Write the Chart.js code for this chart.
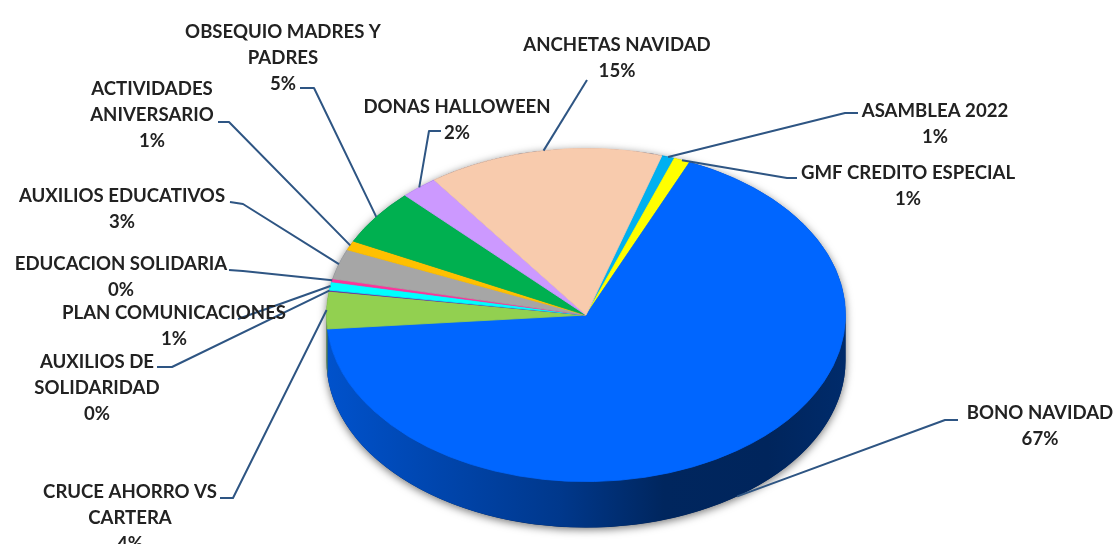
<!DOCTYPE html>
<html>
<head>
<meta charset="utf-8">
<script src="https://cdn.jsdelivr.net/npm/chart.js@4.4.1/dist/chart.umd.min.js"></script>
<style>
  html, body { margin: 0; padding: 0; background: #fff; }
  #wrap { width: 1118px; height: 544px; position: relative; }
</style>
</head>
<body>
<div id="wrap"><canvas id="chart"></canvas></div>
<script>
// slices in clockwise order, starting at the top right
const categories = [
    "ASAMBLEA 2022",
    "GMF CREDITO ESPECIAL",
    "BONO NAVIDAD",
    ["CRUCE AHORRO VS", "CARTERA"],
    ["AUXILIOS DE", "SOLIDARIDAD"],
    "PLAN COMUNICACIONES",
    "EDUCACION SOLIDARIA",
    "AUXILIOS EDUCATIVOS",
    ["ACTIVIDADES", "ANIVERSARIO"],
    ["OBSEQUIO MADRES Y", "PADRES"],
    "DONAS HALLOWEEN",
    "ANCHETAS NAVIDAD"
]
const values = [0.8, 1.0, 66.8, 3.6, 0.1, 0.8, 0.3, 2.9, 0.9, 5.4, 2.3, 14.6]
const colors = ["#00b0f0", "#ffff00", "#0066ff", "#92d050", "#7030a0", "#00ffff",
                "#ff3399", "#a6a6a6", "#ffc000", "#00b050", "#cc99ff", "#f8cbad"]

// where each label sits, and the bent part of its leader line
const labelLayout = [
    { x: 935, y: 111, lead: [[858, 113], [845, 113]] },
    { x: 908, y: 173, lead: [[797, 178], [787, 178]] },
    { x: 1040, y: 413, lead: [[958, 420], [945, 420]], side: true },
    { x: 130, y: 492, lead: [[220, 498], [233, 498]] },
    { x: 97, y: 362, lead: [[157, 367], [172, 367]] },
    { x: 174, y: 313, lead: [[238, 319]] },
    { x: 121, y: 264, lead: [[229, 270], [243, 271]] },
    { x: 122, y: 196, lead: [[230, 202], [243, 204]] },
    { x: 152, y: 89, lead: [[218, 122], [229, 122]] },
    { x: 283, y: 32, lead: [[300, 88], [314, 88]] },
    { x: 457, y: 107, lead: [[441, 131], [429, 131]] },
    { x: 617, y: 45, lead: [[587, 80]] }
]

const TILT = 0.642
const CENTER_Y = 315
const DEPTH = 46
const LINE_H = 26

function shade(hex, f) {
    const n = parseInt(hex.slice(1), 16)
    const r = Math.round(((n >> 16) & 255) * f)
    const g = Math.round(((n >> 8) & 255) * f)
    const b = Math.round((n & 255) * f)
    return `rgb(${r},${g},${b})`
}

const pie3d = {
    id: "pie3d",
    beforeDatasetsDraw(chart) {
        const ctx = chart.ctx
        const arcs = chart.getDatasetMeta(0).data
        const cx = arcs[0].x, r = arcs[0].outerRadius, ry = r * TILT

        // shadow under the whole disc
        ctx.save()
        ctx.shadowColor = "rgba(0,0,0,0.55)"
        ctx.shadowBlur = 8
        ctx.shadowOffsetY = 2
        ctx.fillStyle = "#00235a"
        ctx.beginPath()
        ctx.ellipse(cx, CENTER_Y + DEPTH, r, ry, 0, 0, Math.PI)
        ctx.ellipse(cx, CENTER_Y, r, ry, 0, Math.PI, 2 * Math.PI)
        ctx.closePath()
        ctx.fill()
        ctx.restore()

        // front side of each slice
        arcs.forEach((arc, i) => {
            for (const shift of [-2 * Math.PI, 0, 2 * Math.PI]) {
                const a0 = Math.max(arc.startAngle + shift, 0)
                const a1 = Math.min(arc.endAngle + shift, Math.PI)
                if (a1 <= a0) continue
                const grad = ctx.createLinearGradient(cx - r, 0, cx + r, 0)
                grad.addColorStop(0, shade(colors[i], 0.8))
                grad.addColorStop(0.45, shade(colors[i], 0.55))
                grad.addColorStop(0.65, shade(colors[i], 0.37))
                grad.addColorStop(0.85, shade(colors[i], 0.36))
                grad.addColorStop(1, shade(colors[i], 0.42))
                ctx.save()
                ctx.fillStyle = grad
                ctx.beginPath()
                ctx.ellipse(cx, CENTER_Y, r, ry, 0, a0, a1)
                ctx.ellipse(cx, CENTER_Y + DEPTH, r, ry, 0, a1, a0, true)
                ctx.closePath()
                ctx.fill()
                ctx.restore()
            }
        })
    },
    beforeDatasetDraw(chart) {
        const arc = chart.getDatasetMeta(0).data[0]
        const ctx = chart.ctx
        ctx.save()
        ctx.translate(0, CENTER_Y)
        ctx.scale(1, TILT)
        ctx.translate(0, -arc.y)
    },
    afterDatasetDraw(chart) {
        chart.ctx.restore()
    },
    afterDatasetsDraw(chart) {
        const ctx = chart.ctx
        const arcs = chart.getDatasetMeta(0).data
        const total = values.reduce((a, b) => a + b, 0)

        arcs.forEach((arc, i) => {
            const lay = labelLayout[i]
            const mid = (arc.startAngle + arc.endAngle) / 2
            const ex = arc.x + arc.outerRadius * Math.cos(mid)
            const ey = CENTER_Y + arc.outerRadius * TILT * Math.sin(mid) + (lay.side ? DEPTH : 0)

            ctx.save()
            ctx.strokeStyle = "#2e5583"
            ctx.lineWidth = 2
            ctx.lineJoin = "round"
            ctx.beginPath()
            lay.lead.forEach((p, k) => k ? ctx.lineTo(p[0], p[1]) : ctx.moveTo(p[0], p[1]))
            ctx.lineTo(ex, ey)
            ctx.stroke()
            ctx.restore()

            const name = categories[i]
            const lines = (Array.isArray(name) ? name.slice() : [name])
            lines.push(Math.round(values[i] / total * 100) + "%")

            ctx.save()
            ctx.fillStyle = "#222"
            ctx.font = "bold 18.6px Lato"
            ctx.textAlign = "center"
            ctx.textBaseline = "middle"
            lines.forEach((t, k) => ctx.fillText(t, lay.x, lay.y + k * LINE_H))
            ctx.restore()
        })
    }
}

new Chart(document.getElementById("chart"), {
    type: "pie",
    data: {
        labels: categories,
        datasets: [{
            data: values,
            backgroundColor: colors,
            borderColor: colors,
            borderWidth: 1,
            hoverOffset: 0,
            offset: 0,
            clip: false
        }]
    },
    options: {
        responsive: true,
        maintainAspectRatio: false,
        animation: false,
        rotation: 17,
        layout: {
            padding: { left: 326, right: 272, top: 12, bottom: 12 }
        },
        events: [],
        plugins: {
            legend: { display: false },
            tooltip: { enabled: false }
        }
    },
    plugins: [pie3d]
})
</script>
</body>
</html>
